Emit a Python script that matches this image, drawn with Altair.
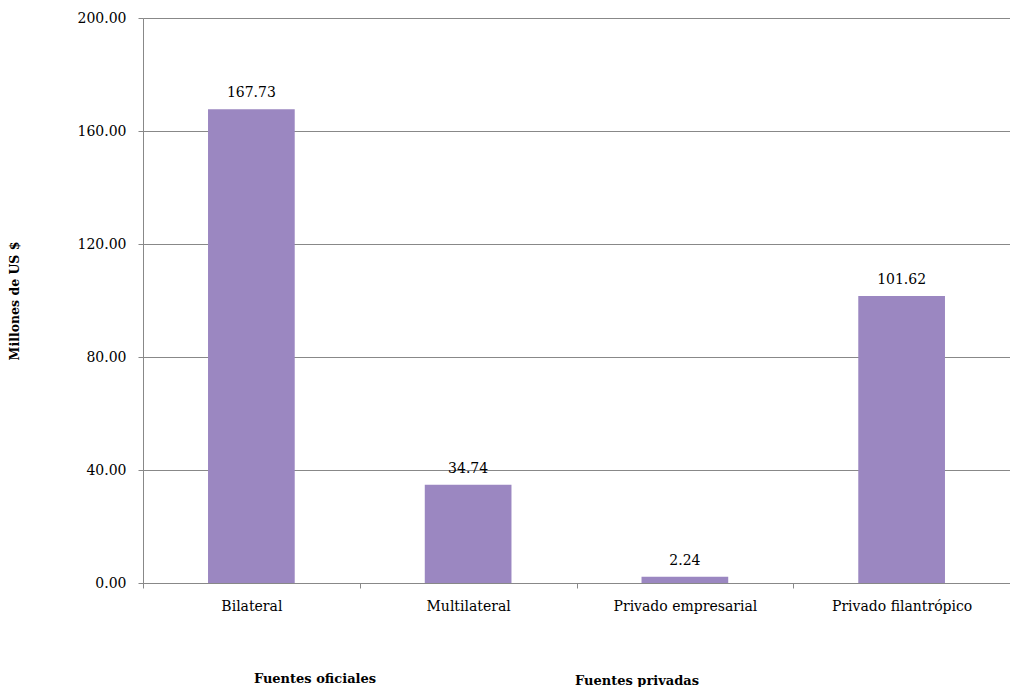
import altair as alt
import pandas as pd

categories = ["Bilateral", "Multilateral", "Privado empresarial", "Privado filantrópico"]
values = [167.73, 34.74, 2.24, 101.62]
group_labels = ["Fuentes oficiales", "Fuentes privadas"]

df = pd.DataFrame({"cat": categories, "val": values})
FONT = "DejaVu Serif"

x = alt.X("cat:N", sort=categories, title=None,
          scale=alt.Scale(paddingInner=0, paddingOuter=0),
          axis=alt.Axis(labelAngle=0, labelFont=FONT, labelFontSize=14, labelColor="#000",
                        labelPadding=11, tickBand="extent", tickSize=5, tickColor="#888",
                        domainColor="#888", grid=False))
y = alt.Y("val:Q", title="Millones de US $",
          scale=alt.Scale(domain=[0, 200]),
          axis=alt.Axis(values=[0, 40, 80, 120, 160, 200], format=".2f",
                        labelFont=FONT, labelFontSize=14, labelColor="#000", labelPadding=12,
                        tickSize=5, tickColor="#888", domainColor="#888",
                        gridColor="#888", gridWidth=1,
                        titleFont=FONT, titleFontSize=12.5, titleFontWeight="bold",
                        titleColor="#000", titlePadding=56))

bars = alt.Chart(df).mark_bar(color="#9B87C1", width=alt.RelativeBandSize(0.4)).encode(x=x, y=y)
labels = alt.Chart(df).mark_text(font=FONT, fontSize=14, color="#000", dy=-16).encode(
    x=alt.X("cat:N", sort=categories), y="val:Q", text=alt.Text("val:Q", format=".2f"))

g1 = alt.Chart(pd.DataFrame({"t": [group_labels[0]]})).mark_text(
    font=FONT, fontSize=13, fontWeight="bold", color="#000").encode(
    x=alt.value(172), y=alt.value(661), text="t:N")
g2 = alt.Chart(pd.DataFrame({"t": [group_labels[1]]})).mark_text(
    font=FONT, fontSize=13, fontWeight="bold", color="#000").encode(
    x=alt.value(494), y=alt.value(663), text="t:N")

chart = alt.layer(bars, labels, g1, g2).properties(
    width=867, height=565,
    autosize=alt.AutoSizeParams(type="none"),
    padding={"left": 135, "top": 10, "right": 0, "bottom": 104},
).configure_view(stroke=None).configure(background="white")

chart.save("out.html", embed_options={"renderer": "svg", "actions": False})
